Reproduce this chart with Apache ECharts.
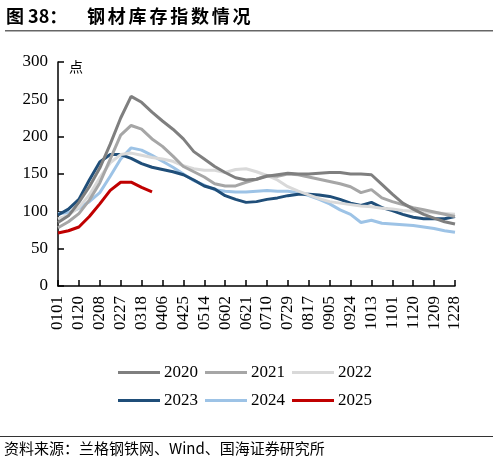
<!DOCTYPE html>
<html>
<head>
<meta charset="utf-8">
<script src="https://cdn.jsdelivr.net/npm/echarts@6/dist/echarts.min.js"></script>
<style>
  html, body { margin: 0; padding: 0; background: #fff; }
  #chart { width: 498px; height: 464px; }
</style>
</head>
<body>
<div id="chart"></div>
<script>
// 日期(约每9.5天一个点)，刻度标签隔一个显示
var dates = ['0101', '0110', '0120', '0129', '0208', '0217', '0227', '0308', '0318', '0327',
  '0406', '0415', '0425', '0504', '0514', '0523', '0602', '0611', '0621', '0630',
  '0710', '0719', '0729', '0807', '0817', '0826', '0905', '0914', '0924', '1003',
  '1013', '1022', '1101', '1110', '1120', '1129', '1209', '1218', '1228']
var y2020 = [85, 94, 112, 133, 158, 190, 225, 254, 246, 233, 221, 210, 197, 180, 170, 160, 152, 145, 142, 143,
  147, 149, 151, 150, 150, 151, 152, 152, 150, 150, 149, 136, 123, 111, 103, 96, 91, 86, 83]
var y2021 = [78, 86, 97, 115, 138, 170, 202, 215, 210, 197, 187, 174, 160, 153, 146, 137, 134, 134, 139, 143,
  148, 147, 150, 149, 146, 143, 140, 137, 133, 125, 129, 118, 113, 109, 105, 102, 99, 96, 93]
var y2022 = [90, 95, 105, 122, 145, 165, 176, 178, 175, 172, 170, 167, 161, 157, 155, 155, 152, 156, 157, 153,
  148, 142, 133, 127, 122, 117, 113, 111, 109, 107, 106, 104, 103, 101, 100, 99, 98, 97, 96]
var y2023 = [95, 103, 116, 142, 166, 176, 176, 171, 164, 159, 156, 153, 149, 142, 134, 130, 121, 116, 112, 113,
  116, 118, 121, 123, 123, 122, 120, 116, 111, 108, 112, 105, 101, 96, 92, 90, 90, 90, 93]
var y2024 = [97, 98, 104, 113, 125, 147, 170, 185, 182, 175, 167, 159, 150, 141, 135, 129, 127, 126, 126, 127,
  128, 127, 127, 125, 121, 116, 110, 102, 96, 85, 88, 84, 83, 82, 81, 79, 77, 74, 72]
var y2025 = [71, 74, 79, 93, 110, 128, 139, 139, 132, 126]
var years = ['2020', '2021', '2022', '2023', '2024', '2025']
var colors = ['#7f7f7f', '#a6a6a6', '#d9d9d9', '#1f4e79', '#9dc3e6', '#c00000']
var yTicks = [0, 50, 100, 150, 200, 250, 300]

var serif = '"Liberation Serif", "Times New Roman", serif'
var cjk = '"Noto Sans CJK SC", sans-serif'

var MyChart = echarts.init(document.getElementById('chart'))
var allData = [y2020, y2021, y2022, y2023, y2024, y2025]
var series = []
for (var i = 0; i < years.length; i++) {
  series.push({
    name: years[i],
    type: 'line',
    data: allData[i],
    showSymbol: false,
    symbol: 'none',
    lineStyle: { width: 3, color: colors[i] },
    itemStyle: { color: colors[i] },
    z: 10 - i
  })
}

// 标题：逐字摆放，拉开字距
var graphics = [
  { type: 'text', left: 6, top: 7, style: { text: '图 38：', font: 'bold 18px ' + cjk, fill: '#000' } }
]
var titleText = '钢材库存指数情况'
for (var k = 0; k < titleText.length; k++) {
  graphics.push({ type: 'text', left: 87 + k * 20.8, top: 7, style: { text: titleText[k], font: 'bold 18px ' + cjk, fill: '#000' } })
}
graphics.push(
  { type: 'rect', shape: { x: 5, y: 30, width: 488, height: 1.5 }, style: { fill: '#666' } },
  { type: 'text', left: 69, top: 60, style: { text: '点', font: '14px ' + cjk, fill: '#000' } },
  { type: 'rect', shape: { x: 0, y: 436, width: 493, height: 1 }, style: { fill: '#333' } },
  { type: 'text', left: 4, top: 441, style: { text: '资料来源：兰格钢铁网、Wind、国海证券研究所', font: '15px ' + cjk, fill: '#000' } }
)

var option = {
  animation: false,
  grid: { left: 58, right: 43, top: 62, bottom: 178 },
  xAxis: {
    type: 'category',
    data: dates,
    boundaryGap: false,
    axisLine: { lineStyle: { color: '#000', width: 1.5 } },
    axisTick: { inside: true, length: 6, interval: 1, lineStyle: { color: '#000', width: 1.5 } },
    axisLabel: { interval: 1, rotate: 90, color: '#000', fontFamily: serif, fontSize: 17, margin: 10 },
    splitLine: { show: false }
  },
  yAxis: {
    type: 'value',
    min: yTicks[0],
    max: yTicks[yTicks.length - 1],
    interval: 50,
    axisLine: { show: true, lineStyle: { color: '#000', width: 1.5 } },
    axisTick: { show: true, inside: true, length: 6, lineStyle: { color: '#000', width: 1.5 } },
    axisLabel: { color: '#000', fontFamily: serif, fontSize: 17, margin: 10 },
    splitLine: { show: false }
  },
  legend: [
    {
      data: years.slice(0, 3),
      left: 113, top: 359,
      icon: 'rect', itemWidth: 42, itemHeight: 3, itemGap: 7,
      textStyle: { fontFamily: serif, fontSize: 17, color: '#000', padding: [0, 0, 0, -1] }
    },
    {
      data: years.slice(3),
      left: 113, top: 387,
      icon: 'rect', itemWidth: 42, itemHeight: 3, itemGap: 7,
      textStyle: { fontFamily: serif, fontSize: 17, color: '#000', padding: [0, 0, 0, -1] }
    }
  ],
  graphic: graphics,
  series: series
}
MyChart.setOption(option)
</script>
</body>
</html>
